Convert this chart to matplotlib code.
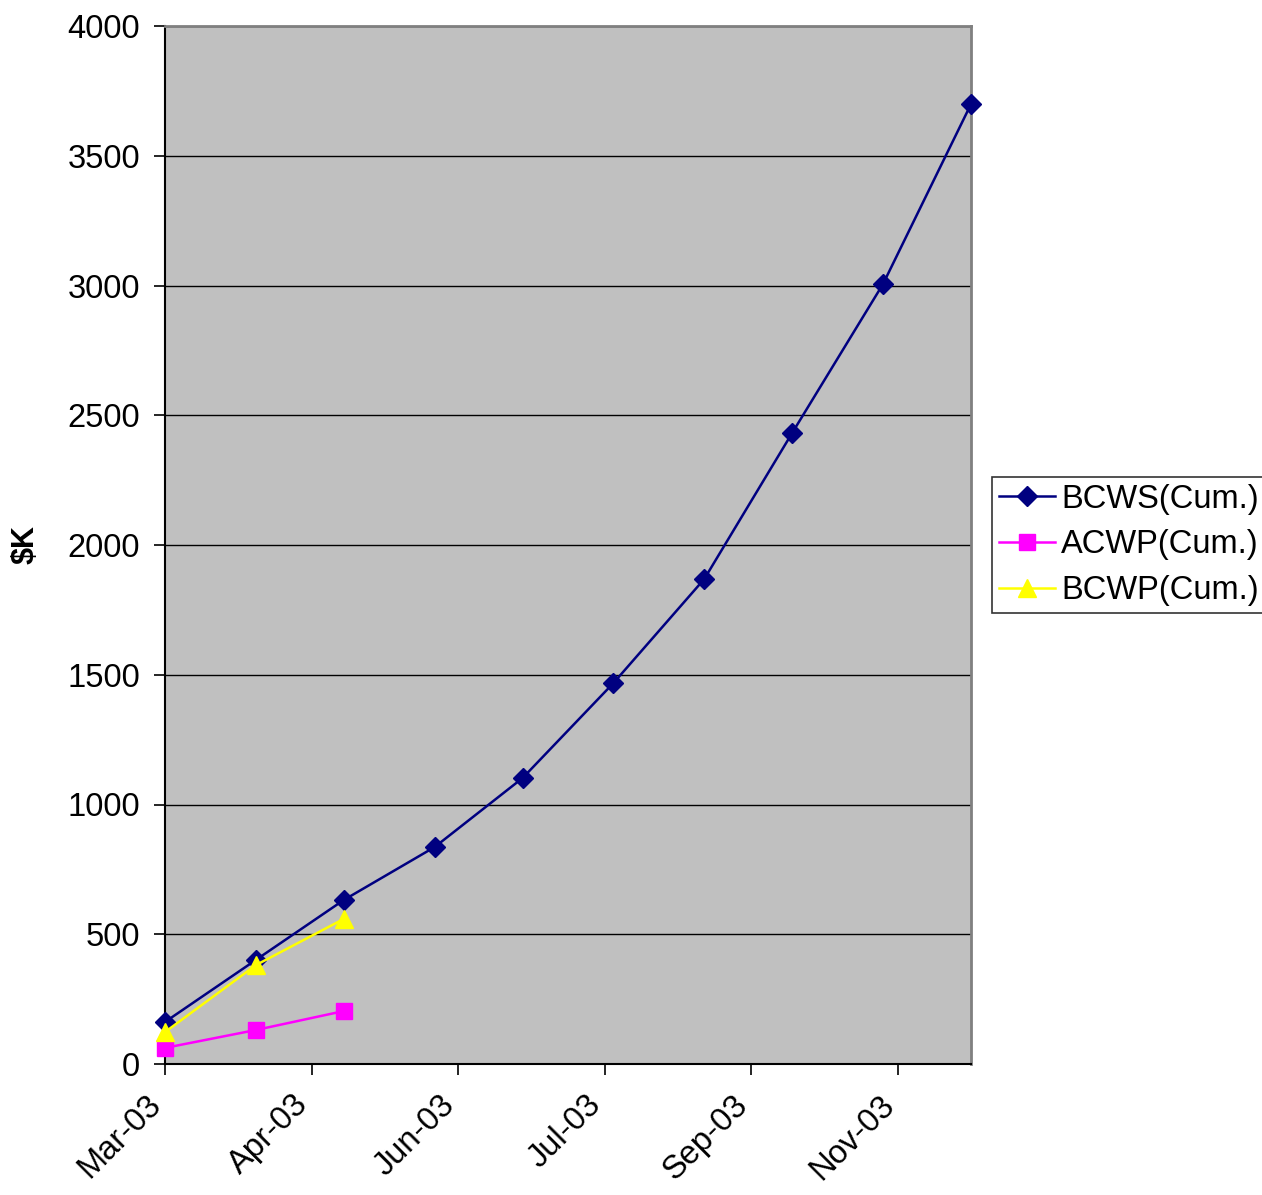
import datetime as dt
import matplotlib
matplotlib.use("Agg")
from matplotlib import pyplot as plt
import matplotlib.dates as mdates
from matplotlib.transforms import ScaledTranslation

plt.rcParams['font.family'] = ['Liberation Sans', 'DejaVu Sans']

# monthly cumulative earned value figures ($K)
months = [dt.date(2003, m, 1) for m in range(3, 13)]
bcws = [162, 401, 632, 836, 1102, 1468, 1869, 2432, 3006, 3699]
acwp = [62, 131, 204]
bcwp = [123, 381, 559]

fig = plt.figure(figsize=(12.62, 11.95), dpi=100)
ax = fig.add_axes([165/1262, 131/1195, 806/1262, 1038/1195])
ax.set_facecolor('#c0c0c0')

ax.plot(months, bcws, color='#000080', marker='D', markersize=10, lw=1.8,
        label='BCWS(Cum.)', clip_on=False, zorder=3)
ax.plot(months[:3], acwp, color='#ff00ff', marker='s', markersize=11, lw=1.8,
        label='ACWP(Cum.)', clip_on=False, zorder=3)
ax.plot(months[:3], bcwp, color='#ffff00', marker='^', markersize=13, lw=1.8,
        label='BCWP(Cum.)', clip_on=False, zorder=3)

ax.set_ylim(0, 4000)
ax.set_yticks(range(0, 4001, 500))
ax.yaxis.grid(True, color='black', lw=1)
ax.set_axisbelow(True)

# date axis: major unit of 50 days from 1 Mar 2003
start = dt.date(2003, 3, 1)
ax.set_xlim(start, dt.date(2003, 12, 1))
ax.set_xticks([start + dt.timedelta(days=50 * i) for i in range(6)])
ax.xaxis.set_major_formatter(mdates.DateFormatter('%b-%y'))

ax.tick_params(axis='both', labelsize=23.5, length=8, width=1.2, direction='out')
ax.tick_params(axis='x', pad=18)
ax.tick_params(axis='y', pad=10)

shift = ScaledTranslation(-6/72, 0, fig.dpi_scale_trans)
for lbl in ax.get_xticklabels():
    lbl.set_rotation(45)
    lbl.set_ha('right')
    lbl.set_va('center')
    lbl.set_rotation_mode('anchor')
    lbl.set_transform(lbl.get_transform() + shift)

for s in ('top', 'right'):
    ax.spines[s].set_color('#808080')
    ax.spines[s].set_linewidth(2)
for s in ('left', 'bottom'):
    ax.spines[s].set_color('black')
    ax.spines[s].set_linewidth(1.5)

ax.set_ylabel('$K', fontsize=22, fontweight='bold')
ax.yaxis.set_label_coords(-0.154, 0.5)

leg = ax.legend(loc='center left', bbox_to_anchor=(992/1262, 1 - 545/1195),
                bbox_transform=fig.transFigure, fontsize=23.5, frameon=True,
                fancybox=False, edgecolor='black', borderpad=0.22,
                handlelength=1.7, handletextpad=0.2, labelspacing=0.45,
                borderaxespad=0)
leg.get_frame().set_linewidth(1.2)

fig.savefig('out.png', dpi=100)
